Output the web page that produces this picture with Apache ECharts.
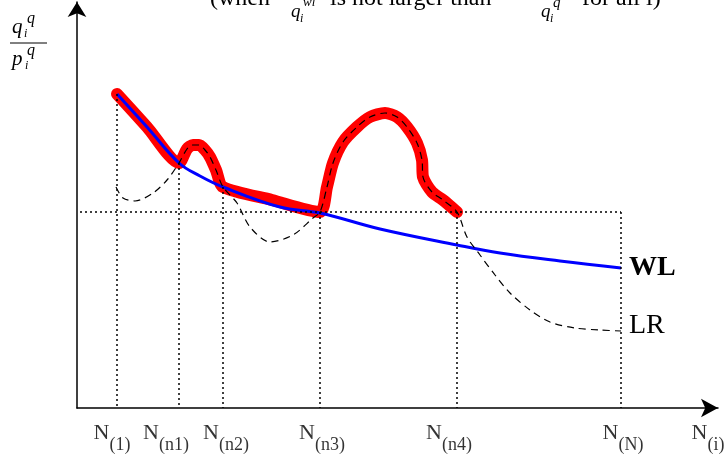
<!DOCTYPE html>
<html>
<head>
<meta charset="utf-8">
<script src="https://cdn.jsdelivr.net/npm/echarts@6/dist/echarts.min.js"></script>
<style>
  html, body { margin: 0; padding: 0; background: #fff; }
  #chart { width: 728px; height: 460px; }
</style>
</head>
<body>
<div id="chart"></div>
<script>
// schematic values: x = position along N(i), y = q/p ratio (arbitrary units)
let nPos = [40, 102, 146, 243, 380, 544];
let nTop = [314, 245, 221, 196, 196, 196];
let refLevel = 196;
let nLabels = ['(1)', '(n1)', '(n2)', '(n3)', '(n4)', '(N)', '(i)'];
let labelPos = [35, 89, 149, 245, 372, 546, 631];

let wlLine = [[40, 314], [70, 281], [102, 245], [123, 232], [146, 221], [203, 201], [243, 195],
    [303, 179], [380, 163], [423, 155], [483, 147], [544, 140]];

let bumpA = [[110, 259], [116, 263], [122, 263], [128, 258], [133, 251], [139, 238]];
let bumpB = [[250, 221], [256, 245], [266, 266], [280, 281], [293, 291], [308, 295], [320, 291],
    [330, 281], [340, 265], [345, 248], [346, 231], [355, 216], [366, 208]];

let redLine = [[40, 314], [70, 281], [102, 245]].concat(bumpA, [[146, 221], [195, 208], [243, 196]], bumpB, [[380, 196]]);

let lrLine = [[39, 221], [46, 210], [58, 207], [76, 215], [90, 228], [102, 245]].concat(bumpA,
    [[146, 221], [160, 205], [173, 181], [193, 166], [216, 173], [236, 190], [243, 196]], bumpB,
    [[380, 196], [390, 171], [403, 153], [418, 133], [433, 115], [453, 98], [473, 86], [498, 80], [523, 78], [544, 77]]);

let serif = '"Liberation Serif", "DejaVu Serif", serif';

let chart = echarts.init(document.getElementById('chart'));

let guideLines = [];
for (let i = 0; i < nPos.length; i++) {
    guideLines.push([{coord: [nPos[i], nTop[i]]}, {coord: [nPos[i], 0]}]);
}
guideLines.push([{coord: [3, refLevel]}, {coord: [nPos[nPos.length - 1], refLevel]}]);

function mathText(x, y, txt, size, italic) {
    return {
        type: 'text', x: x, y: y, silent: true,
        style: {
            text: txt, fill: '#000', fontFamily: serif, fontSize: size,
            fontStyle: italic ? 'italic' : 'normal', verticalAlign: 'middle'
        }
    };
}

let option = {
    animation: false,
    backgroundColor: '#fff',
    grid: {left: 77, top: 2, right: 10, bottom: 52},
    xAxis: {
        type: 'value', min: 0, max: 641,
        axisLine: {lineStyle: {color: '#000', width: 1.5}, symbol: ['none', 'arrow'], symbolSize: [14, 17]},
        axisTick: {show: false}, axisLabel: {show: false}, splitLine: {show: false}
    },
    yAxis: {
        type: 'value', min: 0, max: 406,
        axisLine: {lineStyle: {color: '#000', width: 1.5}, symbol: ['none', 'arrow'], symbolSize: [14, 15]},
        axisTick: {show: false}, axisLabel: {show: false}, splitLine: {show: false}
    },
    series: [
        {
            name: 'red', type: 'line', data: redLine, smooth: 0.25, showSymbol: false, z: 2,
            lineStyle: {color: '#ff0000', width: 12, cap: 'round', join: 'round'},
            markLine: {
                silent: true, symbol: 'none', label: {show: false},
                lineStyle: {color: '#000', width: 1.5, type: [2, 3]},
                data: guideLines
            }
        },
        {
            name: 'WL', type: 'line', data: wlLine, smooth: 0.4, showSymbol: false, z: 3,
            lineStyle: {color: '#0000ff', width: 3},
            endLabel: {
                show: true, formatter: 'WL', distance: 8,
                fontFamily: serif, fontSize: 28, fontWeight: 'bold', color: '#000'
            }
        },
        {
            name: 'LR', type: 'line', data: lrLine, smooth: 0.3, showSymbol: false, z: 4,
            lineStyle: {color: '#000', width: 1.2, type: [7, 5]},
            endLabel: {
                show: true, formatter: 'LR', distance: 8, offset: [0, -5],
                fontFamily: serif, fontSize: 28, color: '#000'
            }
        },
        {
            name: 'labels', type: 'scatter', symbolSize: 0, silent: true,
            data: labelPos.map(function (x, i) { return {value: [x, 0], sub: nLabels[i]}; }),
            label: {
                show: true, position: 'bottom', distance: 14,
                formatter: function (p) { return '{n|N}{s|' + p.data.sub + '}'; },
                rich: {
                    n: {fontFamily: serif, fontSize: 22, lineHeight: 22, color: '#000', verticalAlign: 'top'},
                    s: {fontFamily: serif, fontSize: 18, lineHeight: 22, padding: [14, 0, 0, 0], color: '#000', verticalAlign: 'top'}
                }
            }
        }
    ],
    graphic: [
        mathText(210, -1, '(when', 24, false),
        mathText(291, 12, 'q', 19, true),
        mathText(300, 19, 'i', 12, true),
        mathText(303, 3, 'wl', 13, true),
        mathText(330, -1, 'is not larger than', 24, false),
        mathText(541, 12, 'q', 19, true),
        mathText(550, 19, 'i', 12, true),
        mathText(553, 3, 'q', 15, true),
        mathText(582, -1, 'for all i)', 24, false),
        mathText(12, 27, 'q', 21, true),
        mathText(24, 34, 'i', 12, true),
        mathText(27, 19, 'q', 16, true),
        {type: 'line', shape: {x1: 10, y1: 43, x2: 47, y2: 43}, style: {stroke: '#000', lineWidth: 1}},
        mathText(12, 59, 'p', 21, true),
        mathText(25, 66, 'i', 12, true),
        mathText(27, 51, 'q', 16, true)
    ]
};
chart.setOption(option);
</script>
</body>
</html>
